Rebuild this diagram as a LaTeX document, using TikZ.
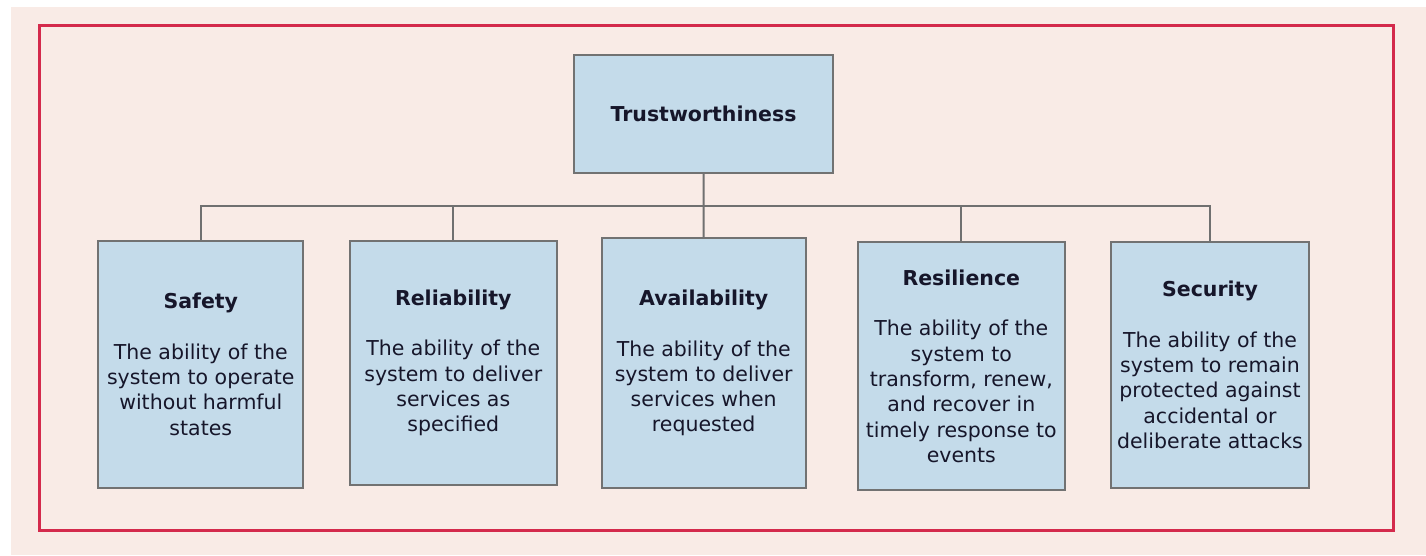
\documentclass[tikz,border=0pt]{standalone}
\usepackage{fontspec}
\setmainfont{DejaVu Sans}
\definecolor{bgpink}{HTML}{F9EBE6}
\definecolor{framered}{HTML}{D42A4C}
\definecolor{boxfill}{HTML}{C4DBEA}
\definecolor{boxline}{HTML}{727272}
\definecolor{connline}{HTML}{707070}
\definecolor{ink}{HTML}{16162A}
\begin{document}
\begin{tikzpicture}[x=1pt,y=-1pt,
  box/.style={draw=boxline, fill=boxfill, line width=2pt, inner sep=0pt,
    align=center, text=ink, font=\fontsize{20.5}{25.3}\selectfont},
  conn/.style={draw=connline, line width=2pt}]
  % canvas and panel
  \useasboundingbox (0,0) rectangle (1426,555);
  \fill[white] (0,0) rectangle (1426,555);
  \fill[bgpink] (11,7) rectangle (1426,555);
  \draw[framered, line width=2.5pt] (39.3,25.3) rectangle (1393.3,530.3);

  % root
  \node[box, minimum width=259pt, minimum height=118pt] (top) at (703.5,114)
    {\bfseries Trustworthiness};

  % attributes
  \node[box, minimum width=205pt, minimum height=247pt] (safety) at (200.8,364.2)
    {{\bfseries Safety}\\[25.3pt]The ability of the\\system to operate\\without harmful\\states};
  \node[box, minimum width=206.7pt, minimum height=244.3pt] (rel) at (453.3,362.8)
    {{\bfseries Reliability}\\[25.3pt]The ability of the\\system to deliver\\services as\\specified};
  \node[box, minimum width=204pt, minimum height=249.4pt] (avail) at (703.7,363)
    {{\bfseries Availability}\\[25.3pt]The ability of the\\system to deliver\\services when\\requested};
  \node[box, minimum width=207.3pt, minimum height=247.7pt] (res) at (961.3,366.2)
    {{\bfseries Resilience}\\[25.3pt]The ability of the\\system to\\transform, renew,\\and recover in\\timely response to\\events};
  \node[box, minimum width=198pt, minimum height=246pt] (sec) at (1210,365)
    {{\bfseries Security}\\[25.3pt]The ability of the\\system to remain\\protected against\\accidental or\\deliberate attacks};

  % tree connectors
  \coordinate (bus) at (703.7,206);
  \draw[conn] (top.south) -- (avail.north);
  \draw[conn] (safety.north) |- (bus) -| (sec.north);
  \draw[conn] (rel.north) -- (rel.north |- bus);
  \draw[conn] (res.north) -- (res.north |- bus);
\end{tikzpicture}
\end{document}
